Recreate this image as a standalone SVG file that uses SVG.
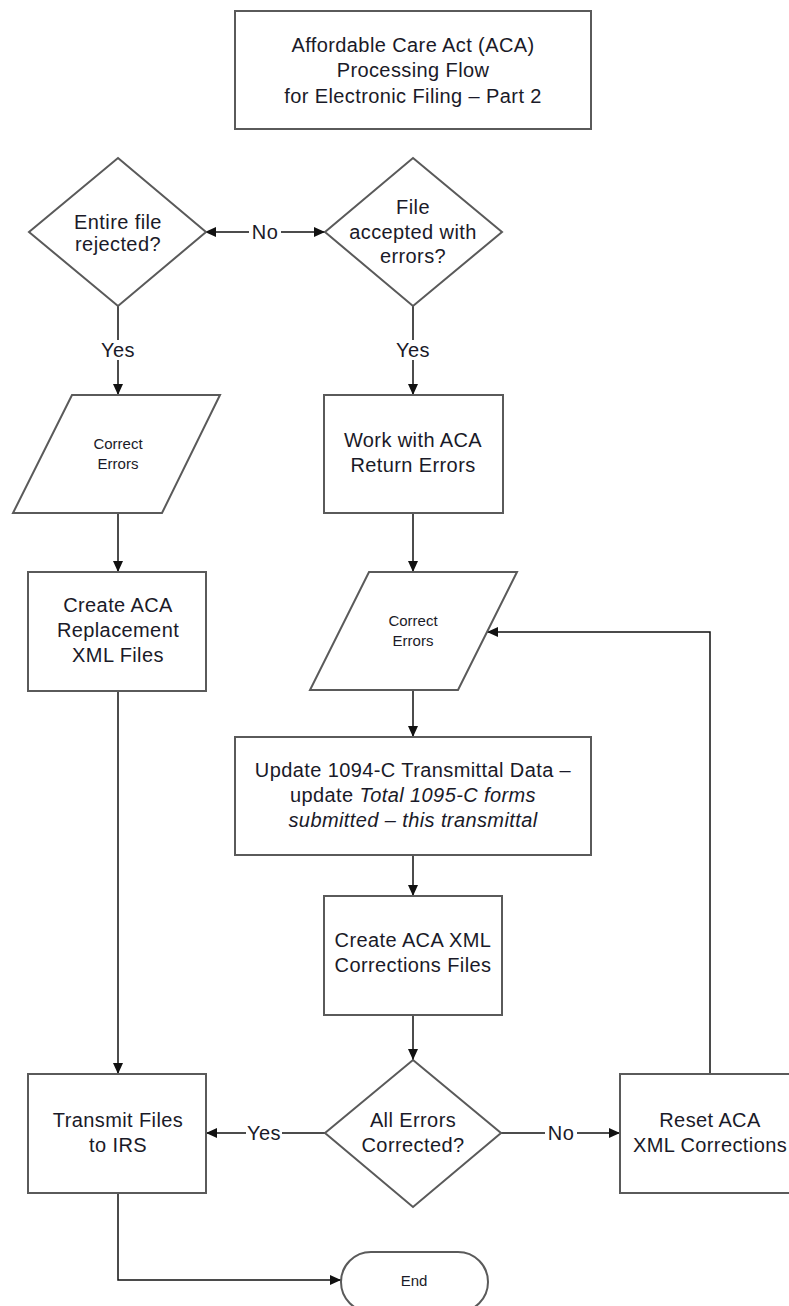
<svg xmlns="http://www.w3.org/2000/svg" width="789" height="1306" viewBox="0 0 789 1306">
<defs>
<marker id="ah" markerWidth="11" markerHeight="11" refX="11" refY="5.5" orient="auto" markerUnits="userSpaceOnUse">
<path d="M0,0.5 L11,5.5 L0,10.5 Z" fill="#111"/>
</marker>
<style>
.shape{fill:#fff;stroke:#5a5a5a;stroke-width:2}
.t{font-family:"Liberation Sans",Arial,sans-serif;font-size:20px;fill:#1a1a28;text-anchor:middle;letter-spacing:0.4px}
.s{font-family:"Liberation Sans",Arial,sans-serif;font-size:15px;fill:#1a1a28;text-anchor:middle}
.c{fill:none;stroke:#111;stroke-width:1.5}
.lb{fill:#fff}
</style>
</defs>
<rect width="789" height="1306" fill="#fff"/>

<g id="title">
<rect class="shape" x="235" y="11" width="356" height="118"/>
<text class="t" x="413" y="52">Affordable Care Act (ACA)</text>
<text class="t" x="413" y="77">Processing Flow</text>
<text class="t" x="413" y="103">for Electronic Filing – Part 2</text>
</g>

<g id="connectors">
<path class="c" d="M265,232 H205" marker-end="url(#ah)"/>
<path class="c" d="M265,232 H325" marker-end="url(#ah)"/>
<path class="c" d="M118,306 V395" marker-end="url(#ah)"/>
<path class="c" d="M413,306 V395" marker-end="url(#ah)"/>
<path class="c" d="M118,513 V572" marker-end="url(#ah)"/>
<path class="c" d="M413,513 V572" marker-end="url(#ah)"/>
<path class="c" d="M413,690 V737" marker-end="url(#ah)"/>
<path class="c" d="M413,855 V896" marker-end="url(#ah)"/>
<path class="c" d="M413,1015 V1060" marker-end="url(#ah)"/>
<path class="c" d="M118,691 V1074" marker-end="url(#ah)"/>
<path class="c" d="M325,1133 H206" marker-end="url(#ah)"/>
<path class="c" d="M501,1133 H620" marker-end="url(#ah)"/>
<path class="c" d="M710,1074 V632 H487" marker-end="url(#ah)"/>
<path class="c" d="M118,1193 V1280 H341" marker-end="url(#ah)"/>
<rect class="lb" x="249" y="222" width="32" height="20"/>
<text class="t" x="265" y="239">No</text>
<rect class="lb" x="98" y="340" width="40" height="20"/>
<text class="t" x="118" y="357">Yes</text>
<rect class="lb" x="393" y="340" width="40" height="20"/>
<text class="t" x="413" y="357">Yes</text>
<rect class="lb" x="246" y="1123" width="36" height="20"/>
<text class="t" x="264" y="1140">Yes</text>
<rect class="lb" x="545" y="1123" width="32" height="20"/>
<text class="t" x="561" y="1140">No</text>
</g>

<g id="d_rejected">
<polygon class="shape" points="118,158 206,232 118,306 29,232"/>
<text class="t" x="118" y="229">Entire file</text>
<text class="t" x="118" y="251">rejected?</text>
</g>

<g id="d_accepted">
<polygon class="shape" points="413,158 502,232 413,306 325,232"/>
<text class="t" x="413" y="214">File</text>
<text class="t" x="413" y="239">accepted with</text>
<text class="t" x="413" y="263">errors?</text>
</g>

<g id="p_correct1">
<polygon class="shape" points="72,395 220,395 162,513 13,513"/>
<text class="s" x="118" y="449">Correct</text>
<text class="s" x="118" y="469">Errors</text>
</g>

<g id="r_work">
<rect class="shape" x="324" y="395" width="179" height="118"/>
<text class="t" x="413" y="447">Work with ACA</text>
<text class="t" x="413" y="472">Return Errors</text>
</g>

<g id="r_replacement">
<rect class="shape" x="28" y="572" width="178" height="119"/>
<text class="t" x="118" y="612">Create ACA</text>
<text class="t" x="118" y="637">Replacement</text>
<text class="t" x="118" y="662">XML Files</text>
</g>

<g id="p_correct2">
<polygon class="shape" points="369,572 517,572 458,690 310,690"/>
<text class="s" x="413" y="626">Correct</text>
<text class="s" x="413" y="646">Errors</text>
</g>

<g id="r_update">
<rect class="shape" x="235" y="737" width="356" height="118"/>
<text class="t" x="413" y="777">Update 1094-C Transmittal Data –</text>
<text class="t" x="413" y="802">update <tspan font-style="italic">Total 1095-C forms</tspan></text>
<text class="t" x="413" y="827" font-style="italic">submitted – this transmittal</text>
</g>

<g id="r_corrections">
<rect class="shape" x="324" y="896" width="178" height="119"/>
<text class="t" x="413" y="947">Create ACA XML</text>
<text class="t" x="413" y="972">Corrections Files</text>
</g>

<g id="d_all">
<polygon class="shape" points="413,1060 501,1133 413,1207 325,1133"/>
<text class="t" x="413" y="1127">All Errors</text>
<text class="t" x="413" y="1152">Corrected?</text>
</g>

<g id="r_transmit">
<rect class="shape" x="28" y="1074" width="178" height="119"/>
<text class="t" x="118" y="1127">Transmit Files</text>
<text class="t" x="118" y="1152">to IRS</text>
</g>

<g id="r_reset">
<rect class="shape" x="620" y="1074" width="180" height="119"/>
<text class="t" x="710" y="1127">Reset ACA</text>
<text class="t" x="710" y="1152">XML Corrections</text>
</g>

<g id="t_end">
<rect class="shape" x="341" y="1252" width="147" height="60" rx="30" ry="30"/>
<text class="s" x="414" y="1286">End</text>
</g>
</svg>
